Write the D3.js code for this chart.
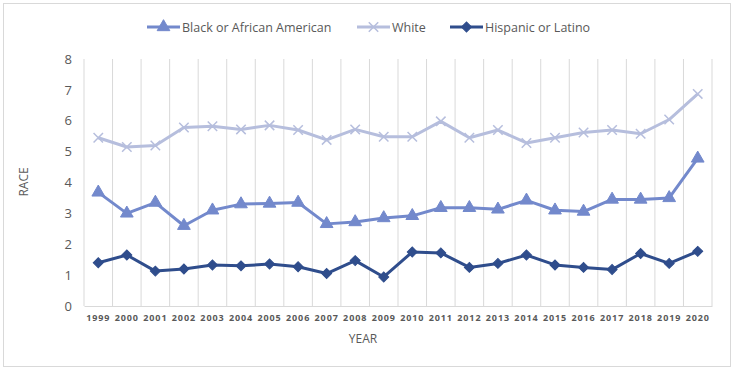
<html lang="en">
<head>
<meta charset="UTF-8">
<script src="https://d3js.org/d3.v7.min.js"></script>
<title>Race by year</title>
<style>
  body { margin: 0; background: #fff; }
  text { font-family: "Open Sans", "Liberation Sans", sans-serif; }
</style>
<script>
var years = ["1999","2000","2001","2002","2003","2004","2005","2006","2007","2008","2009","2010",
             "2011","2012","2013","2014","2015","2016","2017","2018","2019","2020"];
var black = [3.68,3.0,3.35,2.6,3.1,3.3,3.32,3.35,2.66,2.72,2.85,2.92,3.18,3.18,3.13,3.42,3.1,3.06,3.45,3.45,3.5,4.78];
var white = [5.45,5.15,5.2,5.78,5.82,5.72,5.85,5.7,5.38,5.72,5.48,5.48,5.98,5.45,5.7,5.28,5.45,5.62,5.7,5.58,6.04,6.87];
var hispanic = [1.4,1.65,1.13,1.2,1.33,1.3,1.36,1.27,1.05,1.47,0.94,1.75,1.72,1.25,1.38,1.65,1.33,1.25,1.18,1.7,1.38,1.77];
var yTicks = [0,1,2,3,4,5,6,7,8];
var seriesNames = ["Black or African American","White","Hispanic or Latino"];

function main(){
  var svg = d3.select("svg");
  var W = 735, H = 371;
  var left = 84, right = 712, top = 59, bottom = 306;

  svg.append("rect").attr("x",3.5).attr("y",3.5).attr("width",W-8).attr("height",H-8)
     .attr("fill","#fff").attr("stroke","#d9d9d9");

  var x = d3.scaleBand().domain(years).range([left,right]);
  var y = d3.scaleLinear().domain([0,8]).range([bottom,top]);

  // vertical category gridlines
  var g = svg.append("g");
  var bounds = years.map(function(d){return x(d);}).concat([right]);
  g.selectAll(".vg").data(bounds).enter().append("line")
    .attr("x1",function(d){return d;}).attr("x2",function(d){return d;})
    .attr("y1",top).attr("y2",bottom)
    .attr("stroke","#d9d9d9").attr("stroke-width",1);

  var xAxis = svg.append("g").attr("transform","translate(0,"+bottom+")")
    .call(d3.axisBottom(x).tickSize(0).tickPadding(9));
  xAxis.select(".domain").attr("stroke","#d9d9d9");
  xAxis.selectAll("text").attr("font-size","9px").attr("font-weight","bold")
    .attr("fill","#595959").attr("letter-spacing","0.9px");

  var yAxis = svg.append("g").attr("transform","translate("+(left-12)+",0)")
    .call(d3.axisLeft(y).tickValues(yTicks).tickSize(0).tickPadding(0));
  yAxis.select(".domain").remove();
  yAxis.selectAll("text").attr("font-size","13px").attr("fill","#595959");

  svg.append("text").attr("x",363).attr("y",343).attr("text-anchor","middle")
    .attr("font-size","12px").attr("fill","#595959").text("YEAR");
  svg.append("text").attr("transform","translate(28,182) rotate(-90)")
    .attr("text-anchor","middle").attr("font-size","12px").attr("fill","#595959").text("RACE");

  var colors = ["#7389cc","#b6bedd","#2f4d8c"];
  var data = [black, white, hispanic];
  var symbols = [d3.symbolTriangle, d3.symbolX, d3.symbolSquare];
  var sizes = [70, 60, 50];
  var rot = [0, 0, 45];
  var cx = function(d,i){return x(years[i]) + x.bandwidth()/2;};
  var line = d3.line().x(cx).y(function(d){return y(d);});

  data.forEach(function(s,k){
    var sg = svg.append("g");
    sg.append("path").datum(s).attr("d",line).attr("fill","none")
      .attr("stroke",colors[k]).attr("stroke-width",3).attr("stroke-linejoin","round");
    sg.selectAll("path.m").data(s).enter().append("path").attr("class","m")
      .attr("transform",function(d,i){return "translate("+cx(d,i)+","+y(d)+") rotate("+rot[k]+")";})
      .attr("d",d3.symbol().type(symbols[k]).size(sizes[k]))
      .attr("fill",colors[k]).attr("stroke",colors[k]).attr("stroke-width",k==1?1.5:1);
  });

  // legend
  var legX = [147, 357, 450];
  var leg = svg.append("g");
  seriesNames.forEach(function(n,k){
    var lg = leg.append("g").attr("transform","translate("+legX[k]+",27)");
    lg.append("line").attr("x1",0).attr("x2",33).attr("stroke",colors[k]).attr("stroke-width",3);
    lg.append("path").attr("transform","translate(16.5,0) rotate("+rot[k]+")")
      .attr("d",d3.symbol().type(symbols[k]).size(sizes[k]))
      .attr("fill",colors[k]).attr("stroke",colors[k]).attr("stroke-width",k==1?1.5:1);
    lg.append("text").attr("x",35).attr("y",4.5).attr("font-size","12.5px")
      .attr("fill","#595959").text(n);
  });
}
</script>
</head>
<body onload="main();">
<svg width="735" height="371"></svg>
</body>
</html>
